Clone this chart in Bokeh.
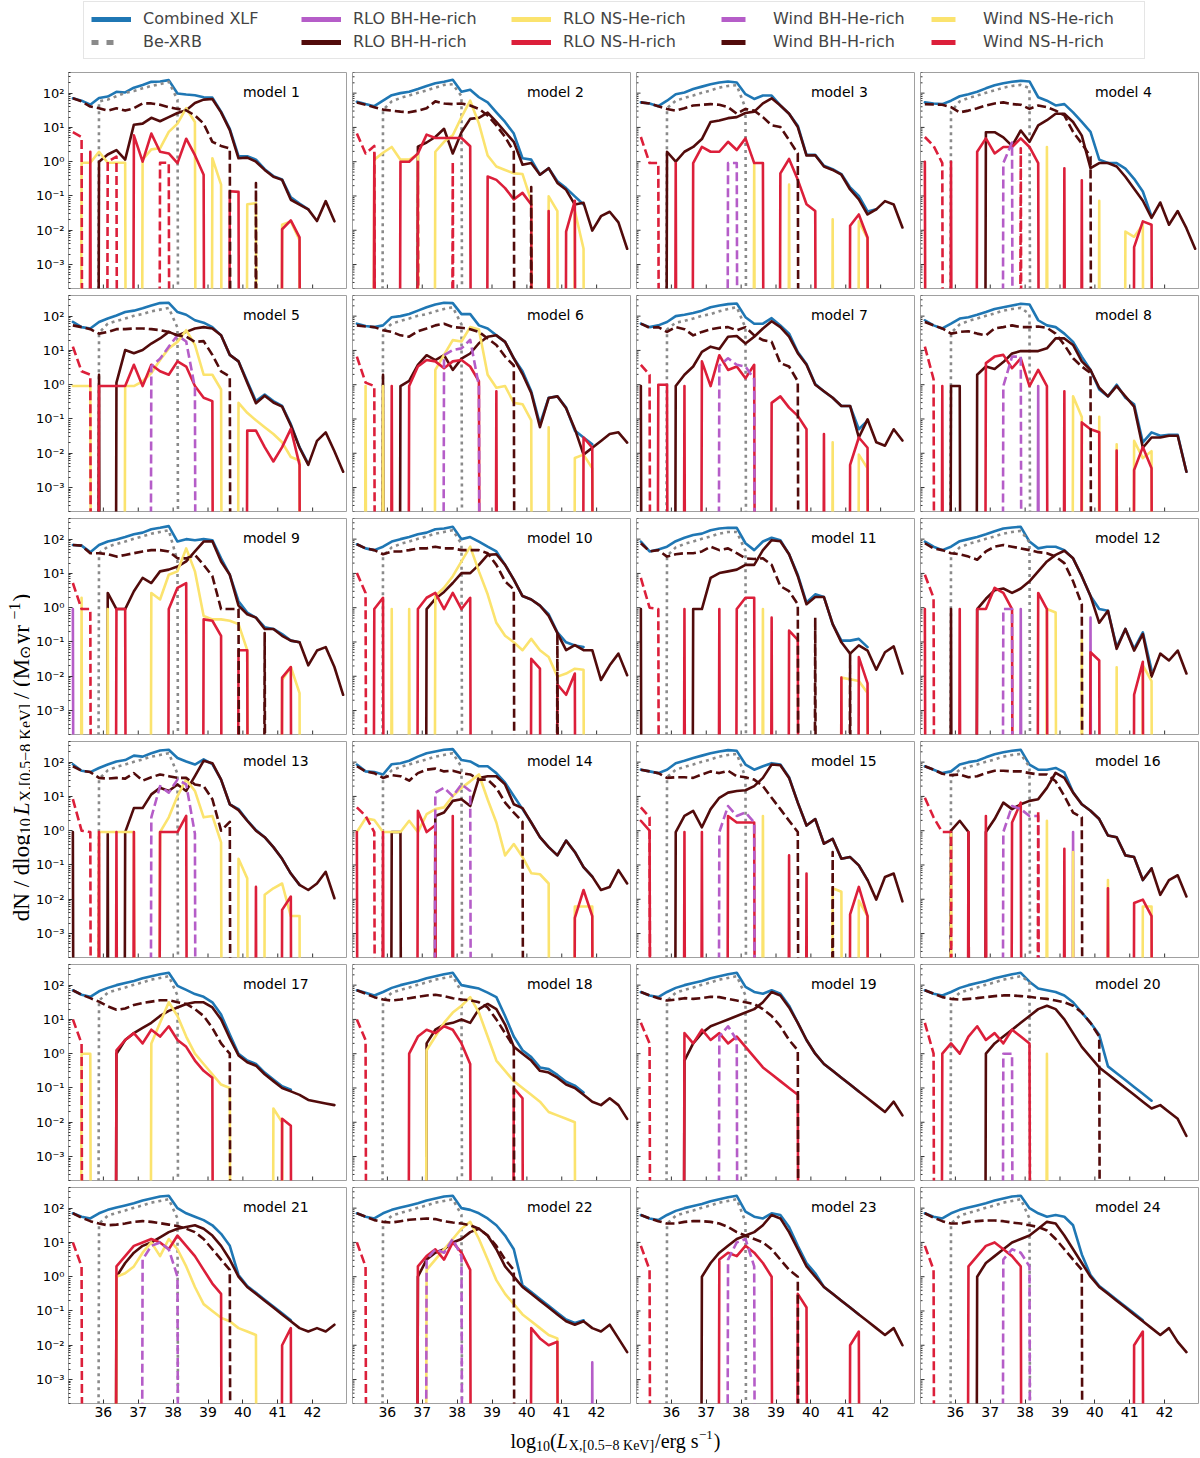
import math
from bokeh.plotting import figure
from bokeh.layouts import row, column
from bokeh.models import Range1d, FixedTicker, Label, Legend, LegendItem
from bokeh.embed import file_html
from bokeh.resources import INLINE

# ---------------- data ----------------
# bin centres of log10(L_X / erg s^-1)
LOGL = [35.125, 35.375, 35.625, 35.875, 36.125, 36.375, 36.625, 36.875,
        37.125, 37.375, 37.625, 37.875, 38.125, 38.375, 38.625, 38.875,
        39.125, 39.375, 39.625, 39.875, 40.125, 40.375, 40.625, 40.875,
        41.125, 41.375, 41.625, 41.875, 42.125, 42.375, 42.625, 42.875]

# number of luminosity bins drawn in each model
NBINS = {1: 31, 2: 32, 3: 31, 4: 32, 5: 32, 6: 32, 7: 31, 8: 31, 9: 32, 10: 32, 11: 31, 12: 31,
         13: 31, 14: 32, 15: 31, 16: 31, 17: 31, 18: 32, 19: 31, 20: 31, 21: 31, 22: 32, 23: 31, 24: 31}

# all values are log10(dN/dlogL); series given as (first bin, [values]);
# bins not listed are empty (zero)
XLF = {
    1: [1.85, 1.78, 1.66, 1.86, 1.9, 2.04, 2.02, 2.16, 2.24, 2.33, 2.34, 2.38, 1.99, 1.96, 1.94, 1.88, 1.87, 1.46, 0.96, 0.16, 0.16, 0.06, -0.22, -0.42, -0.52, -1.04, -1.22, -1.39],
    2: [1.75, 1.68, 1.62, 1.78, 1.94, 2.0, 2.04, 2.12, 2.21, 2.29, 2.33, 2.39, 2.04, 2.1, 1.88, 1.73, 1.44, 1.16, 0.82, 0.1, 0.06, -0.38, -0.19, -0.57, -0.77, -1.01, -1.25],
    3: [1.73, 1.7, 1.62, 1.78, 1.97, 2.02, 2.12, 2.19, 2.26, 2.31, 2.34, 2.31, 1.97, 1.83, 1.93, 1.93, 1.64, 1.4, 1.05, 0.2, 0.2, -0.12, -0.22, -0.36, -0.75, -1.0, -1.45, -1.39],
    4: [1.73, 1.7, 1.68, 1.78, 1.91, 1.97, 2.04, 2.14, 2.23, 2.29, 2.33, 2.36, 2.34, 1.88, 1.78, 1.64, 1.68, 1.44, 1.16, 0.87, 0.06, -0.04, -0.04, -0.2, -0.5, -0.87, -1.6],
    5: [1.83, 1.68, 1.64, 1.83, 1.93, 2.02, 2.12, 2.16, 2.23, 2.31, 2.38, 2.39, 2.12, 2.04, 1.88, 1.81, 1.68, 1.44, 0.87, 0.68, 0.1, -0.48, -0.29, -0.48, -0.62, -1.15, -1.82, -2.31],
    6: [1.78, 1.71, 1.68, 1.73, 1.97, 2.0, 2.06, 2.16, 2.26, 2.34, 2.39, 2.38, 2.06, 2.06, 1.73, 1.64, 1.44, 1.25, 0.77, 0.39, -0.19, -1.15, -0.38, -0.34, -0.67, -1.34, -1.54, -1.74],
    7: [1.78, 1.68, 1.73, 1.83, 2.0, 2.04, 2.09, 2.16, 2.26, 2.31, 2.35, 2.37, 1.97, 1.78, 1.78, 1.94, 1.73, 1.49, 0.95, 0.6, 0.02, -0.2, -0.38, -0.62, -0.62, -1.3, -1.05],
    8: [1.88, 1.73, 1.64, 1.78, 1.93, 1.97, 2.04, 2.12, 2.21, 2.26, 2.31, 2.36, 2.34, 1.88, 1.73, 1.68, 1.49, 1.25, 0.82, 0.43, -0.14, -0.34, 0.0, -0.38, -0.57, -1.68, -1.39, -1.49, -1.46, -1.46, -2.54],
    9: [1.83, 1.81, 1.62, 1.83, 1.93, 1.99, 2.06, 2.14, 2.19, 2.29, 2.33, 2.38, 1.93, 2.0, 1.97, 2.0, 1.97, 1.44, 0.96, 0.19, -0.14, -0.29, -0.57, -0.62, -0.77, -0.96, -1.01],
    10: [1.85, 1.73, 1.68, 1.78, 1.93, 2.0, 2.06, 2.14, 2.19, 2.29, 2.31, 2.36, 2.0, 2.06, 1.93, 1.78, 1.64, 1.25, 0.82, 0.34, 0.24, 0.06, -0.19, -0.72, -1.01, -1.1, -1.15],
    11: [1.93, 1.64, 1.7, 1.78, 1.94, 2.04, 2.12, 2.16, 2.26, 2.31, 2.33, 2.33, 1.88, 1.68, 1.93, 2.04, 1.97, 1.56, 0.96, 0.15, 0.39, 0.31, -0.48, -0.96, -0.96, -0.91, -1.15],
    12: [1.93, 1.78, 1.68, 1.78, 1.94, 2.0, 2.06, 2.14, 2.23, 2.31, 2.34, 2.36, 1.93, 1.73, 1.78, 1.78, 1.68, 1.44, 0.92, 0.34, -0.04, -0.09, -1.15, -0.62, -1.2, -0.72, -1.82],
    13: [1.94, 1.75, 1.71, 1.83, 1.93, 2.02, 2.06, 2.19, 2.16, 2.26, 2.34, 2.36, 2.12, 2.02, 1.93, 2.08, 1.94, 1.49, 0.77, 0.63, 0.3, 0.02, -0.19, -0.48, -0.82, -1.25, -1.58],
    14: [1.93, 1.73, 1.71, 1.64, 1.94, 1.97, 2.04, 2.16, 2.26, 2.31, 2.36, 2.38, 2.06, 2.02, 1.88, 1.88, 1.68, 1.4, 1.01, 0.63, 0.24, -0.19, -0.48, -0.72, -0.29, -0.62, -1.06, -1.34],
    15: [1.78, 1.73, 1.68, 1.78, 1.97, 2.04, 2.12, 2.19, 2.26, 2.31, 2.35, 2.33, 1.93, 1.78, 1.88, 1.97, 1.93, 1.56, 0.82, 0.15, 0.34, -0.38, -0.24, -0.82, -0.77, -1.01, -1.44],
    16: [1.88, 1.78, 1.68, 1.73, 1.93, 2.0, 2.04, 2.14, 2.23, 2.29, 2.33, 2.36, 1.93, 1.78, 1.78, 1.83, 1.7, 1.12, 0.77, 0.58, 0.34, -0.14, -0.19, -0.72, -0.77, -1.44, -1.1],
    17: [1.85, 1.72, 1.66, 1.82, 1.92, 2.0, 2.06, 2.12, 2.2, 2.26, 2.32, 2.36, 1.98, 1.86, 1.74, 1.66, 1.5, 1.14, 0.56, 0.0, -0.2, -0.3, -0.55, -0.75, -0.95, -1.05],
    18: [1.85, 1.78, 1.7, 1.8, 1.92, 2.0, 2.06, 2.12, 2.2, 2.26, 2.32, 2.36, 2.0, 1.95, 1.9, 1.78, 1.65, 1.1, 0.5, 0.1, -0.1, -0.4, -0.45, -0.62, -0.82, -0.93, -1.13],
    19: [1.8, 1.7, 1.65, 1.8, 1.92, 2.0, 2.06, 2.12, 2.2, 2.26, 2.32, 2.36, 1.95, 1.8, 1.75, 1.85, 1.75, 1.4, 0.9, 0.4, 0.0, -0.3, -0.5, -0.7, -0.9, -1.1],
    20: [1.85, 1.75, 1.7, 1.8, 1.92, 2.0, 2.06, 2.12, 2.2, 2.26, 2.32, 2.36, 2.1, 1.9, 1.85, 1.8, 1.7, 1.5, 1.2, 0.9, 0.55, -0.37, -0.57, -0.77, -0.97, -1.17, -1.37],
    21: [1.85, 1.75, 1.7, 1.85, 1.95, 2.02, 2.08, 2.14, 2.22, 2.28, 2.34, 2.36, 2.0, 1.85, 1.75, 1.65, 1.5, 1.25, 0.9, 0.05, -0.27, -0.47, -0.67, -0.87, -1.07, -1.27],
    22: [1.85, 1.75, 1.7, 1.85, 1.95, 2.02, 2.08, 2.14, 2.22, 2.28, 2.34, 2.36, 2.0, 1.95, 1.85, 1.7, 1.5, 1.2, 0.8, -0.25, -0.45, -0.65, -0.85, -1.05, -1.25, -1.35, -1.27],
    23: [1.8, 1.7, 1.65, 1.8, 1.92, 2.0, 2.06, 2.12, 2.2, 2.26, 2.32, 2.36, 1.9, 1.75, 1.7, 1.85, 1.8, 1.45, 0.9, 0.4, 0.1, -0.3, -0.5, -0.7, -0.9, -1.1],
    24: [1.85, 1.75, 1.7, 1.85, 1.95, 2.02, 2.08, 2.14, 2.22, 2.28, 2.34, 2.36, 2.0, 1.85, 1.75, 1.8, 1.75, 1.5, 0.65, 0.05, -0.27, -0.47, -0.67, -0.87, -1.07, -1.27],
}

BEXRB = {
    1: [(3, [1.76, 1.81, 1.91, 2.01, 2.06, 2.14, 2.21, 2.26, 2.33, 1.81])],
    2: [(3, [1.51, 1.76, 1.86, 1.93, 2.01, 2.08, 2.16, 2.24, 2.26, 1.91])],
    3: [(3, [1.56, 1.78, 1.86, 1.93, 2.01, 2.08, 2.16, 2.21, 2.23, 1.56])],
    4: [(3, [1.46, 1.76, 1.86, 1.93, 2.01, 2.08, 2.16, 2.21, 2.24, 2.15])],
    5: [(3, [1.51, 1.78, 1.86, 1.93, 2.01, 2.06, 2.14, 2.19, 2.24, 1.66])],
    6: [(3, [1.56, 1.78, 1.86, 1.93, 2.01, 2.06, 2.14, 2.21, 2.26, 1.76])],
    7: [(3, [1.61, 1.81, 1.86, 1.93, 2.01, 2.06, 2.14, 2.21, 2.26, 1.66])],
    8: [(3, [1.51, 1.76, 1.86, 1.93, 2.01, 2.08, 2.16, 2.21, 2.24, 2.06])],
    9: [(3, [1.59, 1.78, 1.86, 1.93, 2.01, 2.08, 2.16, 2.21, 2.26, 1.36])],
    10: [(3, [1.51, 1.76, 1.86, 1.93, 2.01, 2.08, 2.16, 2.21, 2.26, 1.86])],
    11: [(3, [1.51, 1.76, 1.86, 1.93, 2.01, 2.08, 2.16, 2.21, 2.21, 1.66])],
    12: [(3, [1.51, 1.76, 1.86, 1.93, 2.01, 2.08, 2.16, 2.21, 2.24, 1.91])],
    13: [(3, [1.51, 1.76, 1.86, 1.93, 2.01, 2.08, 2.16, 2.21, 2.26, 1.66])],
    14: [(3, [1.51, 1.76, 1.86, 1.93, 2.01, 2.08, 2.16, 2.21, 2.26, 1.86])],
    15: [(3, [1.56, 1.78, 1.86, 1.93, 2.01, 2.08, 2.16, 2.21, 2.24, 1.56])],
    16: [(3, [1.56, 1.78, 1.86, 1.93, 2.01, 2.08, 2.16, 2.21, 2.24, 1.86])],
    17: [(3, [1.55, 1.78, 1.86, 1.93, 2.01, 2.08, 2.16, 2.21, 2.26, 1.7])],
    18: [(3, [1.55, 1.78, 1.86, 1.93, 2.01, 2.08, 2.16, 2.21, 2.26, 1.8])],
    19: [(3, [1.55, 1.78, 1.86, 1.93, 2.01, 2.08, 2.16, 2.21, 2.26, 1.7])],
    20: [(3, [1.55, 1.78, 1.86, 1.93, 2.01, 2.08, 2.16, 2.21, 2.26, 2.1])],
    21: [(3, [1.55, 1.78, 1.86, 1.93, 2.01, 2.08, 2.16, 2.21, 2.26, 1.7])],
    22: [(3, [1.55, 1.78, 1.86, 1.93, 2.01, 2.08, 2.16, 2.21, 2.26, 1.8])],
    23: [(3, [1.55, 1.78, 1.86, 1.93, 2.01, 2.08, 2.16, 2.21, 2.26, 1.6])],
    24: [(3, [1.55, 1.78, 1.86, 1.93, 2.01, 2.08, 2.16, 2.21, 2.26, 1.7])],
}

RLO_BH_HE = {
    8: [(13, [-0.04])],
    9: [(0, [-0.04])],
    12: [(11, [-0.04]), (19, [-0.29])],
    16: [(17, [-0.04])],
    22: [(27, [-2.5])],
}

RLO_BH_H = {
    1: [(3, [0.0, 0.21, 0.34, 0.06, 1.08, 1.11, 1.28, 1.18, 1.3, 1.42, 1.5, 1.71, 1.81, 1.83, 1.44, 0.92, 0.1, 0.12, 0.0, -0.24, -0.44, -0.53, -1.11, -1.25, -1.39, -1.73, -1.15, -1.74])],
    2: [(7, [0.44, 0.56, 0.72, 0.96, 0.24, 0.86, 1.25, 1.28, 1.43, 1.16, 0.87, 0.58, -0.09, -0.04, -0.38, -0.19, -0.62, -0.82, -1.25, -1.2, -2.01, -1.59, -1.46, -1.77, -2.54])],
    3: [(3, [0.29, 0.0, 0.29, 0.43, 0.66, 1.16, 1.2, 1.27, 1.3, 1.42, 1.46, 1.7, 1.85, 1.64, 1.4, 1.01, 0.18, 0.19, -0.14, -0.24, -0.38, -0.81, -1.1, -1.54, -1.39, -1.15, -1.25, -1.92])],
    4: [(7, [0.86, 0.86, 0.71, 0.46, 0.91, 0.58, 1.06, 1.21, 1.4, 1.4, 1.16, 0.76, -0.19, -0.04, -0.04, -0.14, -0.44, -0.79, -1.14, -1.64, -1.19, -1.84, -1.44, -1.94, -2.54])],
    5: [(3, [0.29]), (5, [0.06, 1.01, 0.92, 1.01, 1.2, 1.35, 1.54, 1.44, 1.54, 1.64, 1.68, 1.64, 1.44, 0.87, 0.68, 0.06, -0.54, -0.32, -0.52, -0.64, -1.19, -1.84, -2.34, -1.64, -1.39, -1.94, -2.54])],
    6: [(3, [0.29]), (5, [-0.04, 0.11, 0.58, 0.86, 0.72, 0.86, 0.43, 0.76, 0.91, 1.21, 1.4, 1.44, 1.25, 0.77, 0.31, -0.24, -1.24, -0.39, -0.34, -0.69, -1.29, -2.04, -1.84, -1.64, -1.44, -1.39, -1.69])],
    7: [(0, [-0.04]), (4, [-0.04, 0.29, 0.53, 0.96, 1.11, 1.04, 1.4, 1.42, 1.2, 1.4, 1.64, 1.85, 1.68, 1.4, 0.92, 0.58, 0.0, -0.19, -0.38, -0.62, -0.62, -1.54, -1.01, -1.68, -1.78, -1.3, -1.63])],
    8: [(3, [-0.04, -0.04]), (6, [0.29, 0.53, 0.46, 0.66, 0.91, 0.98, 0.98, 0.98, 1.06, 1.35, 1.35, 1.16, 0.68, 0.43, -0.09, -0.34, -0.04, -0.34, -0.64, -1.84, -1.54, -1.54, -1.49, -1.49, -2.54])],
    9: [(4, [0.43, -0.04, -0.04, 0.48, 0.87, 0.72, 1.06, 1.11, 1.2, 1.35, 1.64, 1.93, 1.94, 1.35, 0.96, 0.06, -0.19, -0.29, -0.62, -0.62, -0.82, -0.96, -1.01, -1.68, -1.25, -1.15, -1.73, -2.54])],
    10: [(8, [-0.04, 0.26, 0.46, 0.72, 1.01, 1.01, 1.25, 1.54, 1.56, 1.25, 0.82, 0.34, 0.24, 0.06, -0.24, -0.74, -1.24, -1.09, -1.24, -1.24, -2.11, -1.68, -1.34, -1.97])],
    11: [(0, [-0.04]), (6, [-0.04, -0.04, 0.87, 1.01, 1.06, 1.11, 1.25, 1.25, 1.68, 1.97, 1.94, 1.56, 0.92, 0.1, 0.31, 0.31, -0.48, -1.01, -1.34, -1.1, -1.25, -1.81, -1.3, -1.13, -1.92])],
    12: [(3, [-0.04]), (6, [-0.04, 0.26, 0.51, 0.56, 0.43, 0.56, 0.77, 1.06, 1.35, 1.54, 1.66, 1.44, 0.92, 0.34, -0.44, -0.09, -1.2, -0.62, -1.25, -0.77, -2.01, -1.34, -1.54, -1.25, -1.92])],
    13: [(0, [-0.04]), (4, [-0.09]), (6, [-0.04, 0.66, 0.66, 1.06, 1.25, 1.16, 1.35, 1.16, 1.59, 2.04, 1.97, 1.49, 0.77, 0.6, 0.29, 0.0, -0.19, -0.48, -0.82, -1.25, -1.58, -1.73, -1.54, -1.2, -1.97])],
    14: [(4, [-0.04, -0.04]), (9, [0.43, 0.53, 0.87, 0.92, 0.72, 1.54, 1.59, 1.59, 1.35, 0.77, 0.66, 0.24, -0.19, -0.48, -0.72, -0.29, -0.62, -1.06, -1.34, -1.73, -1.64, -1.15, -1.54])],
    15: [(4, [-0.04, 0.43, 0.58, 0.1, 0.63, 0.96, 1.11, 1.16, 1.18, 1.3, 1.54, 1.93, 1.91, 1.54, 0.82, 0.15, 0.34, -0.38, -0.24, -0.82, -0.77, -1.01, -1.44, -2.01, -1.35, -1.25, -2.06])],
    16: [(3, [0.0, 0.29, -0.04]), (7, [-0.04, 0.34, 0.82, 0.63, 0.77, 0.87, 0.92, 1.25, 1.69, 1.54, 1.11, 0.77, 0.58, 0.34, -0.14, -0.19, -0.72, -0.77, -1.44, -1.1, -1.87, -1.44, -1.3, -1.92])],
    17: [(5, [0.0, 0.4, 0.6, 0.75, 0.9, 1.1, 1.25, 1.35, 1.45, 1.5, 1.5, 1.35, 1.0, 0.45, -0.05, -0.25, -0.35, -0.6, -0.8, -1.0, -1.1, -1.2, -1.35, -1.4, -1.45, -1.5])],
    18: [(8, [0.3, 0.7, 0.85, 0.9, 1.0, 0.9, 1.3, 1.45, 1.3, 0.85, 0.2, 0.0, -0.2, -0.5, -0.55, -0.7, -0.9, -1.0, -1.2, -1.4, -1.5, -1.3, -1.5, -1.9])],
    19: [(5, [-0.2, 0.3, 0.6, 0.8, 0.9, 1.0, 1.1, 1.2, 1.3, 1.5, 1.8, 1.7, 1.35, 0.9, 0.4, 0.0, -0.3, -0.5, -0.7, -0.9, -1.1, -1.3, -1.5, -1.7, -1.4, -1.8])],
    20: [(7, [0.0, 0.3, 0.5, 0.7, 0.9, 1.1, 1.3, 1.4, 1.3, 1.0, 0.6, 0.2, -0.1, -0.4, -0.6, -0.8, -1.0, -1.2, -1.4, -1.6, -1.5, -1.7, -1.9, -2.4])],
    21: [(5, [0.0, 0.4, 0.7, 0.9, 1.0, 1.15, 1.3, 1.4, 1.45, 1.5, 1.4, 1.2, 0.9, 0.5, 0.0, -0.3, -0.5, -0.7, -0.9, -1.1, -1.3, -1.5, -1.6, -1.5, -1.6, -1.4])],
    22: [(7, [0.0, 0.5, 0.7, 0.8, 1.0, 1.1, 1.3, 1.4, 1.2, 0.8, 0.3, 0.0, -0.3, -0.5, -0.7, -0.9, -1.1, -1.3, -1.4, -1.3, -1.5, -1.6, -1.4, -1.8, -2.2])],
    23: [(7, [0.0, 0.4, 0.7, 0.9, 1.1, 1.2, 1.3, 1.5, 1.8, 1.7, 1.3, 0.8, 0.3, 0.0, -0.3, -0.5, -0.7, -0.9, -1.1, -1.3, -1.5, -1.7, -1.5, -2.0])],
    24: [(6, [0.0, 0.4, 0.6, 0.8, 1.0, 1.1, 1.2, 1.4, 1.6, 1.55, 1.2, 0.8, 0.4, 0.0, -0.3, -0.5, -0.7, -0.9, -1.1, -1.3, -1.5, -1.7, -1.5, -1.9, -2.2])],
}

RLO_NS_HE = {
    1: [(1, [-0.03, -0.03, 0.29, -0.03, -0.03, -0.03]), (8, [0.06, 0.36, 0.39, 0.87, 1.11, 1.56, 1.16]), (16, [0.1, -0.67]), (20, [-1.24, -1.21]), (24, [-1.84, -1.74, -2.29])],
    2: [(2, [0.06, 0.26, 0.43, 0.06, 0.06, 0.21]), (9, [0.29, 0.58, 0.77, 1.3, 1.78, 1.11, 0.18, -0.14, -0.24, -0.34, -0.36, -1.14]), (22, [-1.01, -1.44]), (25, [-1.44, -2.54])],
    3: [(13, [-0.04]), (17, [-0.67]), (22, [-1.68]), (25, [-1.74, -2.24])],
    4: [(14, [0.43]), (20, [-1.14]), (23, [-2.04, -2.19, -1.84])],
    5: [(0, [-0.04, -0.04, -0.04]), (6, [-0.04, -0.04, 0.1, 0.34, 0.72, 1.06, 1.25, 1.59, 1.16, 0.29, 0.29, -0.14]), (19, [-0.53, -0.82, -1.04, -1.24, -1.44, -1.68, -2.11, -2.21])],
    6: [(1, [-0.04]), (3, [-0.04]), (9, [0.43, 0.87, 1.3, 1.26, 1.68, 1.61, 0.29, -0.09, -0.04, -0.53, -0.57, -1.04]), (22, [-1.24]), (25, [-2.14, -2.04, -2.44])],
    7: [(22, [-1.68]), (25, [-2.04, -2.44])],
    8: [(17, [-0.34, -0.94]), (20, [-0.94]), (22, [-1.74]), (24, [-1.64, -2.14, -1.94])],
    9: [(1, [0.29]), (4, [-0.04]), (9, [0.43, 0.24, 0.96, 1.06, 1.73, 1.06, -0.24, -0.34, -0.34, -0.38, -0.48, -1.24]), (24, [-2.11, -1.73, -2.49])],
    10: [(4, [-0.04]), (6, [-0.04]), (9, [0.34, 0.58, 0.92, 1.35, 1.78, 1.06, 0.39, -0.44, -0.82, -1.01, -1.24, -0.91, -1.24, -1.44, -2.01, -1.92, -1.78, -1.81])],
    11: [(14, [-0.04]), (23, [-2.04, -2.09, -2.14, -2.49])],
    12: [(14, [-0.04, -0.14]), (18, [-0.91]), (22, [-1.74]), (25, [-1.68, -2.14])],
    13: [(3, [-0.04, -0.04, -0.04, -0.04, -0.04]), (10, [-0.04, 0.39, 1.01, 1.49, 1.16, 0.39, 0.43, -0.34]), (19, [-0.82, -1.39]), (22, [-1.87, -1.68, -1.54, -2.49, -2.49])],
    14: [(0, [-0.04, 0.36, 0.31, -0.04, -0.04, -0.04, 0.29, -0.04, 0.48, 0.63, 0.68, 1.01, 1.25, 1.44, 1.64, 0.91, 0.24, -0.72, -0.39, -0.77, -1.24, -1.27, -1.54]), (25, [-2.21, -2.21, -2.21])],
    15: [(14, [0.43]), (22, [-1.68, -1.78]), (25, [-2.04, -2.49])],
    16: [(14, [0.29]), (17, [-0.62]), (21, [-1.44]), (25, [-2.21, -2.21])],
    17: [(1, [0.0, 0.0]), (9, [0.3, 0.9, 1.5, 1.1, 0.5, 0.0, -0.3, -0.6, -0.9, -1.0]), (23, [-1.6, -2.0])],
    18: [(8, [0.1, 0.5, 0.9, 1.2, 1.4, 1.65, 1.2, 0.5, -0.2, -0.5, -0.8, -1.0, -1.2, -1.4, -1.7, -1.8, -1.9, -2.0])],
    20: [(14, [0.0])],
    21: [(5, [0.0, 0.1, 0.3, 0.7, 1.0, 0.6, 1.1, 0.8, 0.3, -0.3, -0.8, -1.0, -1.2, -1.3, -1.5, -1.6, -1.7])],
    22: [(8, [0.2, 0.5, 0.8, 1.1, 1.4, 1.6, 1.1, 0.5, -0.1, -0.5, -0.8, -1.1, -1.3, -1.5, -1.7, -1.8])],
}

RLO_NS_H = {
    1: [(2, [0.29]), (7, [0.77, 0.0, 0.82, 0.29, 0.24, -0.04, 0.67, 0.19, -0.38]), (18, [-0.86, -0.88]), (24, [-1.97, -1.71, -2.21])],
    2: [(2, [0.24]), (5, [0.0, 0.0, 0.24, 0.79, 0.69, 0.69, 0.69, 0.69, 0.45]), (15, [-0.43, -0.53, -0.77, -1.1, -0.91, -1.25]), (22, [-1.44]), (24, [-2.04, -1.14])],
    3: [(4, [-0.04]), (6, [-0.04, 0.43, 0.29, 0.29, 0.58, 0.34, 0.68, -0.04, -0.04]), (16, [-0.34, 0.08, -0.53, -1.24, -1.44]), (24, [-1.87, -1.54, -2.21])],
    4: [(0, [0.0]), (3, [0.0]), (6, [0.29, 0.68, 0.24, 0.43, 0.43, 0.68, 0.43, -0.04]), (16, [-0.19]), (18, [-0.54]), (24, [-2.49, -1.74, -1.84])],
    5: [(3, [-0.04, -0.04, -0.04, -0.04, 0.58, -0.04, 0.58, 0.39, 0.29, 0.68, 0.53, -0.04, -0.38, -0.48]), (20, [-1.34, -1.34, -1.82, -2.24, -1.82, -1.29, -2.34])],
    6: [(4, [-0.04]), (6, [-0.04, 0.53, 0.72, 0.68, 0.48, 0.68, 0.72, 0.53, 0.1]), (16, [-0.19]), (26, [-1.54, -1.84])],
    7: [(2, [0.0, 0.0]), (5, [-0.04]), (7, [0.68, -0.04, 0.86, 0.43, 0.53, 0.19, 0.58]), (15, [-0.53, -0.34, -0.67, -0.91, -1.3]), (21, [-1.44]), (24, [-2.34, -1.54, -1.84])],
    8: [(2, [-0.04]), (7, [0.63, 0.82, 0.87, 0.48, 0.77, -0.04, 0.43, -0.04]), (16, [-0.19]), (18, [-1.1, -1.3, -1.39]), (22, [-1.92]), (24, [-2.49, -1.82, -2.44])],
    9: [(5, [-0.04, -0.04]), (11, [-0.04, 0.58, 0.72]), (15, [-0.34, -0.38, -0.82]), (19, [-1.24, -1.24]), (24, [-2.04, -1.73])],
    10: [(2, [-0.04, 0.29]), (7, [-0.04, 0.29, 0.43, -0.04, 0.43, -0.04, 0.29]), (20, [-1.49, -1.78]), (23, [-2.24, -2.54, -1.92])],
    11: [(5, [-0.04]), (9, [-0.04]), (11, [-0.04, 0.29, 0.29]), (15, [-0.29]), (17, [-0.67, -0.94]), (23, [-2.04]), (25, [-1.44, -2.21])],
    12: [(0, [-0.04]), (4, [-0.04]), (6, [-0.04, -0.04, 0.58, 0.43, -0.04]), (13, [0.43, -0.04]), (19, [-1.3, -1.54]), (24, [-2.54, -1.58])],
    13: [(3, [-0.04]), (5, [-0.04]), (7, [-0.04]), (10, [-0.04, -0.04, -0.04, 0.43]), (21, [-1.64]), (24, [-2.31, -1.92])],
    14: [(0, [-0.04]), (3, [-0.04]), (7, [0.58, -0.04, 0.16]), (11, [0.43]), (25, [-2.54, -1.73, -2.49])],
    15: [(0, [0.29, 0.0]), (5, [-0.04]), (7, [-0.04]), (10, [0.43, 0.24, 0.24, 0.24]), (17, [-0.72]), (19, [-1.25]), (24, [-2.44, -1.64, -2.49])],
    16: [(5, [-0.04]), (7, [0.43]), (10, [0.24, 0.82]), (16, [-0.53]), (21, [-1.68]), (24, [-2.11, -2.01, -2.49])],
    17: [(5, [0.1, 0.4, 0.6, 0.3, 0.7, 0.5, 0.8, 0.4, 0.2, -0.2, -0.5, -0.7]), (24, [-1.9, -2.1])],
    18: [(6, [0.0, 0.5, 0.7, 0.6, 0.8, 0.7, 0.3, -0.3]), (18, [-1.0, -1.3])],
    19: [(5, [0.6, 0.3, 0.7, 0.4, 0.6, 0.3, 0.5, 0.2, -0.1, -0.4, -0.6, -0.8, -1.0, -1.2])],
    20: [(2, [0.0, 0.3, 0.0, 0.5, 0.8, 0.4, 0.6, 0.3, 0.7, 0.5, 0.3])],
    21: [(5, [0.3, 0.6, 0.9, 1.0, 1.1, 1.0, 0.8, 1.2, 0.9, 0.6, 0.2, -0.2, -0.5]), (24, [-2.0, -1.5])],
    22: [(7, [0.3, 0.6, 0.8, 0.5, 1.0, 0.7, 0.2]), (20, [-1.5, -1.8, -2.0, -1.9])],
    23: [(9, [0.5, 0.7, 0.6, 0.9, 0.7, 0.4, 0.0]), (18, [-0.5, -0.9]), (24, [-2.0, -1.6])],
    24: [(5, [0.3, 0.6, 0.9, 1.0, 0.8, 0.6, 0.3]), (24, [-2.0, -1.6])],
}

WIND_BH_HE = {
    3: [(10, [-0.04, -0.04])],
    4: [(9, [-0.04, 0.56])],
    5: [(9, [0.53, 0.76, 1.11, 1.44, 1.26, -0.09])],
    6: [(10, [0.86, 1.01, 1.06, 1.31, -0.04])],
    7: [(9, [0.56, 0.77, 0.58, 0.53, 0.16])],
    8: [(9, [-0.04, 0.82, 0.82])],
    12: [(9, [-0.04, -0.04])],
    13: [(9, [0.39, 1.3, 1.11, 1.49, 1.35, -0.09])],
    14: [(9, [1.11, 1.25, 1.01, 1.35, 1.16])],
    15: [(9, [-0.04, 0.72, 0.43, 0.53, 0.24])],
    16: [(9, [-0.04, 0.72, 0.63, 0.43, 0.43])],
    19: [(9, [0.5, 0.8, 0.4])],
    20: [(9, [0.0, 0.0])],
    21: [(8, [0.5, 0.9, 1.0, 0.8, 0.0])],
    22: [(8, [0.5, 0.8, 0.7, 1.1, 0.6])],
    23: [(10, [0.5, 1.0, 1.1, 0.3])],
    24: [(9, [0.5, 0.8, 0.7, 0.3])],
}

WIND_BH_H = {
    1: [(0, [1.85, 1.76, 1.61, 1.56, 1.49, 1.56, 1.49, 1.56, 1.7, 1.7, 1.66, 1.59, 1.54, 1.5, 1.35, 1.11, 0.58, 0.46, 0.39]), (21, [-0.62])],
    2: [(0, [1.73, 1.66, 1.59, 1.52, 1.49, 1.46, 1.44, 1.49, 1.56, 1.76, 1.7, 1.68, 1.7, 1.64, 1.54, 1.35, 1.06, 0.72, 0.29]), (20, [-0.74])],
    3: [(0, [1.73, 1.7, 1.62, 1.54, 1.49, 1.56, 1.64, 1.66, 1.68, 1.66, 1.59, 1.4, 1.54, 1.49, 1.3, 1.06, 1.01, 0.63, 0.24])],
    4: [(0, [1.68, 1.67, 1.66, 1.59, 1.44, 1.49, 1.56, 1.64, 1.7, 1.73, 1.68, 1.66, 1.54, 1.64, 1.59, 1.49, 1.35, 0.87, 0.53, 0.15])],
    5: [(0, [1.73, 1.68, 1.62, 1.49, 1.54, 1.62, 1.62, 1.64, 1.64, 1.62, 1.59, 1.54, 1.44, 1.4, 1.25, 1.27, 0.87, 0.39, 0.24])],
    6: [(0, [1.73, 1.7, 1.68, 1.59, 1.54, 1.44, 1.4, 1.56, 1.64, 1.73, 1.78, 1.68, 1.66, 1.62, 1.54, 1.35, 1.16, 0.82, 0.56])],
    7: [(0, [1.78, 1.66, 1.68, 1.54, 1.68, 1.62, 1.44, 1.54, 1.62, 1.66, 1.68, 1.59, 1.68, 1.44, 1.3, 1.25, 0.63, 0.53, 0.1])],
    8: [(0, [1.83, 1.73, 1.64, 1.49, 1.54, 1.56, 1.49, 1.44, 1.64, 1.68, 1.73, 1.68, 1.68, 1.7, 1.66, 1.49, 1.16, 0.77, 0.53, 0.34])],
    9: [(0, [1.83, 1.81, 1.59, 1.59, 1.56, 1.49, 1.54, 1.59, 1.64, 1.68, 1.68, 1.64, 1.44, 1.44, 1.54, 1.25, 0.92, -0.04, -0.04, -0.04]), (22, [-0.74])],
    10: [(0, [1.85, 1.73, 1.68, 1.56, 1.64, 1.64, 1.68, 1.73, 1.73, 1.78, 1.73, 1.73, 1.68, 1.68, 1.68, 1.59, 1.25, 0.77, 0.53]), (23, [-0.72])],
    11: [(0, [1.88, 1.64, 1.68, 1.49, 1.56, 1.59, 1.59, 1.64, 1.78, 1.68, 1.73, 1.59, 1.44, 1.42, 1.44, 1.25, 0.63, 0.48, 0.1]), (20, [-0.29]), (24, [-1.34])],
    12: [(0, [1.88, 1.73, 1.68, 1.59, 1.56, 1.49, 1.4, 1.64, 1.78, 1.83, 1.78, 1.73, 1.68, 1.62, 1.59, 1.49, 1.3, 0.77, 0.1])],
    13: [(0, [1.88, 1.75, 1.71, 1.54, 1.52, 1.54, 1.52, 1.68, 1.46, 1.56, 1.64, 1.59, 1.54, 1.54, 1.35, 1.3, 0.92, 0.0, 0.26])],
    14: [(0, [1.88, 1.73, 1.68, 1.54, 1.62, 1.59, 1.46, 1.68, 1.78, 1.81, 1.73, 1.75, 1.68, 1.64, 1.49, 1.49, 1.25, 0.82, 0.53, 0.26])],
    15: [(0, [1.78, 1.73, 1.68, 1.54, 1.56, 1.56, 1.54, 1.64, 1.73, 1.68, 1.75, 1.59, 1.56, 1.49, 1.3, 0.96, 0.63, 0.29, -0.04]), (22, [-0.62])],
    16: [(0, [1.88, 1.78, 1.66, 1.62, 1.64, 1.56, 1.59, 1.68, 1.75, 1.75, 1.73, 1.73, 1.68, 1.64, 1.64, 1.44, 1.01, 0.53, 0.39])],
    17: [(0, [1.85, 1.72, 1.62, 1.52, 1.38, 1.28, 1.32, 1.42, 1.48, 1.52, 1.56, 1.56, 1.5, 1.45, 1.3, 1.1, 0.75, 0.3, 0.0])],
    18: [(0, [1.85, 1.75, 1.65, 1.58, 1.55, 1.58, 1.62, 1.66, 1.7, 1.72, 1.68, 1.62, 1.58, 1.56, 1.5, 1.35, 1.0, 0.6, 0.2])],
    19: [(0, [1.8, 1.7, 1.62, 1.55, 1.58, 1.62, 1.6, 1.62, 1.66, 1.65, 1.6, 1.55, 1.5, 1.45, 1.3, 1.1, 0.8, 0.4, 0.1])],
    20: [(0, [1.85, 1.75, 1.65, 1.6, 1.58, 1.6, 1.62, 1.65, 1.68, 1.7, 1.7, 1.68, 1.66, 1.62, 1.6, 1.55, 1.5, 1.4, 1.2, 0.9, 0.5])],
    21: [(0, [1.85, 1.72, 1.62, 1.55, 1.5, 1.52, 1.55, 1.6, 1.62, 1.6, 1.56, 1.52, 1.48, 1.4, 1.3, 1.1, 0.8, 0.5, 0.2])],
    22: [(0, [1.85, 1.75, 1.65, 1.6, 1.58, 1.62, 1.66, 1.68, 1.7, 1.68, 1.62, 1.58, 1.55, 1.5, 1.4, 1.2, 0.9, 0.5, 0.2])],
    23: [(0, [1.8, 1.7, 1.62, 1.55, 1.55, 1.6, 1.62, 1.62, 1.6, 1.55, 1.45, 1.3, 1.2, 1.1, 1.0, 0.8, 0.5, 0.2, 0.0])],
    24: [(0, [1.85, 1.72, 1.62, 1.55, 1.55, 1.6, 1.62, 1.64, 1.64, 1.62, 1.58, 1.55, 1.5, 1.45, 1.35, 1.1, 0.8, 0.5, 0.2])],
}

WIND_NS_HE = {
    16: [(3, [-0.04])],
}

WIND_NS_H = {
    1: [(0, [0.86, 0.72]), (4, [0.0, 0.15]), (10, [-0.03, -0.03])],
    2: [(0, [0.82, 0.24, 0.46]), (7, [0.0]), (11, [0.0])],
    3: [(0, [0.72, -0.04, -0.04])],
    4: [(0, [0.72, 0.46, -0.04]), (11, [0.39])],
    5: [(0, [1.11, 0.39, 0.29])],
    6: [(0, [0.82, 0.06, -0.04])],
    7: [(0, [0.58, 0.29])],
    8: [(0, [1.11, 0.16])],
    9: [(0, [0.72, -0.04, -0.04])],
    10: [(0, [1.01, 0.43])],
    11: [(0, [0.87, 0.0, -0.04])],
    12: [(0, [0.96, 0.29])],
    13: [(0, [0.92, 0.0, -0.04])],
    14: [(0, [0.68, 0.43, -0.04])],
    15: [(0, [0.68, 0.39])],
    16: [(0, [0.96, 0.39, -0.04, -0.04]), (13, [0.58])],
    17: [(0, [1.0, 0.3])],
    18: [(0, [1.0, 0.4])],
    19: [(0, [0.9, 0.3])],
    20: [(0, [0.9, 0.0])],
    21: [(0, [1.0, 0.3])],
    22: [(0, [1.0, 0.3])],
    23: [(0, [0.9, 0.2])],
    24: [(0, [0.9, 0.2])],
}

# ---------------- styling ----------------
BLUE = "#1f77b4"
GREY = "#8a8a8a"
PURPLE = "#b55dc8"
MAROON = "#520b0b"
YELLOW = "#fbe36e"
RED = "#dc1f3a"

SERIES = [
    ("Combined XLF", None, BLUE, "solid"),
    ("Be-XRB", BEXRB, GREY, "3 4"),
    ("RLO BH-He-rich", RLO_BH_HE, PURPLE, "solid"),
    ("RLO BH-H-rich", RLO_BH_H, MAROON, "solid"),
    ("RLO NS-He-rich", RLO_NS_HE, YELLOW, "solid"),
    ("RLO NS-H-rich", RLO_NS_H, RED, "solid"),
    ("Wind BH-He-rich", WIND_BH_HE, PURPLE, "9 4"),
    ("Wind BH-H-rich", WIND_BH_H, MAROON, "9 4"),
    ("Wind NS-He-rich", WIND_NS_HE, YELLOW, "9 4"),
    ("Wind NS-H-rich", WIND_NS_H, RED, "9 4"),
]

LEGEND_DASH = {"solid": "solid", "3 4": "7 8 7 100", "9 4": "24 60"}

ZERO = 1e-100  # empty bins (drawn as drops below the frame, as on a log axis)
LW = 2.6
FW, FH = 279, 216
XMIN, XMAX = 35.0, 43.0
YMIN, YMAX = 2e-4, 4e2
TICK_DX_MAJ = 4.0 * (XMAX - XMIN) / FW
TICK_DX_MIN = 2.0 * (XMAX - XMIN) / FW
TICK_FY = 10 ** (4.0 * math.log10(YMAX / YMIN) / FH)


def expand(segs, nb):
    ys = [ZERO] * nb
    for start, vals in segs:
        for i, v in enumerate(vals):
            idx = start + i
            while idx >= len(ys):
                ys.append(ZERO)
            ys[idx] = 10 ** v
    return ys


YT = [1e-3, 1e-2, 1e-1, 1e0, 1e1, 1e2]
YT_LAB = {1e-3: "10\u207b\u00b3", 1e-2: "10\u207b\u00b2", 1e-1: "10\u207b\u00b9",
          1e0: "10\u2070", 1e1: "10\u00b9", 1e2: "10\u00b2"}
YMINOR = [m * 10.0 ** e for e in range(-4, 3) for m in range(2, 10) if YMIN <= m * 10.0 ** e <= YMAX]
XT = [36, 37, 38, 39, 40, 41, 42]
TICK_COLOR = "#333333"


def style_axis(ax):
    ax.axis_line_color = None
    ax.major_tick_in = 4
    ax.major_tick_out = 0
    ax.minor_tick_in = 2
    ax.minor_tick_out = 0
    ax.major_tick_line_color = TICK_COLOR
    ax.minor_tick_line_color = TICK_COLOR
    ax.major_label_text_font = "DejaVu Sans"
    ax.major_label_text_color = "black"
    ax.axis_label = None


YL_W = 30


def make_panel(m, r, c):
    left = (68 - YL_W) if c == 0 else 5
    bottom = 22 if r == 5 else 7
    p = figure(frame_width=FW, frame_height=FH, x_range=Range1d(XMIN, XMAX),
               y_range=Range1d(YMIN, YMAX), y_axis_type="log", title=None,
               output_backend="svg", toolbar_location=None,
               min_border_left=left, min_border_right=0, min_border_top=0,
               min_border_bottom=bottom, background_fill_color="white",
               border_fill_color="white")
    p.outline_line_color = "#a0a0a0"
    p.outline_line_width = 1
    p.xgrid.visible = False
    p.ygrid.visible = False

    if c == 0:
        style_axis(p.yaxis[0])
        p.yaxis.ticker = FixedTicker(ticks=YT, minor_ticks=YMINOR)
        p.yaxis.major_label_overrides = YT_LAB
        p.yaxis.major_label_text_font_size = "13px"
        p.yaxis.major_label_standoff = 4
    else:
        p.yaxis.visible = False
        ys = YT + YMINOR
        x1 = [XMIN + TICK_DX_MAJ] * len(YT) + [XMIN + TICK_DX_MIN] * len(YMINOR)
        p.segment(x0=[XMIN] * len(ys), y0=ys, x1=x1, y1=ys, line_color=TICK_COLOR, line_width=1)
    if r == 5:
        style_axis(p.xaxis[0])
        p.xaxis.ticker = FixedTicker(ticks=XT, minor_ticks=[])
        p.xaxis.major_label_text_font_size = "14px"
        p.xaxis.major_label_standoff = 3
    else:
        p.xaxis.visible = False
        p.segment(x0=XT, y0=[YMIN] * len(XT), x1=XT, y1=[YMIN * TICK_FY] * len(XT),
                  line_color=TICK_COLOR, line_width=1)

    nb = NBINS[m]
    for name, data, color, dash in SERIES:
        cap = "round" if dash == "solid" else "butt"
        if data is None:
            vals = XLF[m]
            p.line(LOGL[:len(vals)], [10 ** v for v in vals], line_color=color,
                   line_width=LW, line_join="round", line_cap="round")
            continue
        if m not in data:
            continue
        ys = expand(data[m], nb)
        p.line(LOGL[:len(ys)], ys, line_color=color, line_width=LW,
               line_dash=dash, line_join="round", line_cap=cap)
    p.add_layout(Label(x=40.0, y=111, text="model %d" % m, text_font="DejaVu Sans",
                       text_font_size="14px", text_baseline="middle", text_color="black"))
    return p


# ---------------- legend strip ----------------
lf = figure(width=1199, height=72, x_range=Range1d(0, 1), y_range=Range1d(0, 1),
            x_axis_location=None, y_axis_location=None, title=None,
            output_backend="svg", toolbar_location=None, min_border=0)
lf.outline_line_color = None
lf.xgrid.visible = False
lf.ygrid.visible = False
items = []
for name, data, color, dash in SERIES:
    rr = lf.line([5, 6], [5, 5], line_color=color, line_width=5, line_dash=LEGEND_DASH[dash])
    items.append(LegendItem(label=name, renderers=[rr]))
legend = Legend(items=items, location=(83, 13), orientation="vertical", nrows=2,
                glyph_width=40, glyph_height=16, label_standoff=12, label_width=154,
                label_height=16, spacing=4, padding=7, margin=0,
                label_text_font="DejaVu Sans", label_text_font_size="16px",
                border_line_color="#cccccc", border_line_width=1,
                background_fill_color="white", background_fill_alpha=1.0)
lf.add_layout(legend)

# ---------------- axis titles ----------------
SERIF_W = {'d': 500, 'N': 722, ' ': 250, '/': 278, 'l': 278, 'o': 500, 'g': 500, '1': 500, '0': 500,
           'L': 556, 'X': 722, ',': 250, '[': 333, '.': 250, '5': 500, '\u2212': 564, '8': 500,
           'K': 722, 'e': 444, 'V': 722, ']': 333, '(': 333, 'M': 889, '\u2299': 780, 'y': 500,
           'r': 333, ')': 333, 's': 389}


def tw(s, size):
    return sum(SERIF_W.get(ch, 500) for ch in s) * size / 1000.0


YPARTS = [("dN / dlog", 23, "normal", 0, 0), ("10", 16, "normal", -4, 3), ("L", 23, "italic", 0, 1),
          ("X,[0.5\u22128 KeV]", 16, "normal", -4, 5), ("/ (M", 23, "normal", 0, 0),
          ("\u2299", 16, "normal", -4, 2), (" yr", 23, "normal", 0, 0),
          ("\u22121", 16, "normal", 7, 1), (")", 23, "normal", 0, 0)]
XPARTS = [("log", 20, "normal", 0, 0), ("10", 14, "normal", -5, 0), ("(", 20, "normal", 0, 0),
          ("L", 20, "italic", 0, 1), ("X,[0.5\u22128 KeV]", 14, "normal", -5, 1),
          ("/erg s", 20, "normal", 0, 0), ("\u22121", 13, "normal", 6, 1), (")", 20, "normal", 0, 0)]

GRID_H = 5 * (FH + 7) + (FH + 22)

yl = figure(width=YL_W, height=GRID_H, x_range=Range1d(0, YL_W), y_range=Range1d(0, GRID_H),
            x_axis_location=None, y_axis_location=None, title=None,
            output_backend="svg", toolbar_location=None, min_border=0)
yl.outline_line_color = None
yl.xgrid.visible = False
yl.ygrid.visible = False
total = sum(tw(t, s) + g for t, s, st, sh, g in YPARTS)
cur = (GRID_H - (757 - 72)) - total / 2.0
base_x = 21
for t, s, st, sh, g in YPARTS:
    yl.add_layout(Label(x=base_x - sh, y=cur, text=t, angle=math.pi / 2,
                        text_font="Liberation Serif", text_font_size="%dpx" % s,
                        text_font_style=st, text_align="left", text_baseline="alphabetic",
                        text_color="black"))
    cur += tw(t, s) + g

XL_H = 1458 - 72 - GRID_H
xl = figure(width=1199, height=XL_H, x_range=Range1d(0, 1199), y_range=Range1d(0, XL_H),
            x_axis_location=None, y_axis_location=None, title=None,
            output_backend="svg", toolbar_location=None, min_border=0)
xl.outline_line_color = None
xl.xgrid.visible = False
xl.ygrid.visible = False
total = sum(tw(t, s) + g for t, s, st, sh, g in XPARTS)
cur = 615 - total / 2.0
base_y = XL_H - (1440 - (72 + GRID_H))
for t, s, st, sh, g in XPARTS:
    xl.add_layout(Label(x=cur, y=base_y + sh, text=t, text_font="Liberation Serif",
                        text_font_size="%dpx" % s, text_font_style=st, text_align="left",
                        text_baseline="alphabetic", text_color="black"))
    cur += tw(t, s) + g

# ---------------- assemble ----------------
rows = []
for r in range(6):
    rows.append(row(*[make_panel(4 * r + c + 1, r, c) for c in range(4)]))
grid = column(*rows)
page = column(lf, row(yl, grid), xl)

open("out.html", "w").write(file_html(page, INLINE))
